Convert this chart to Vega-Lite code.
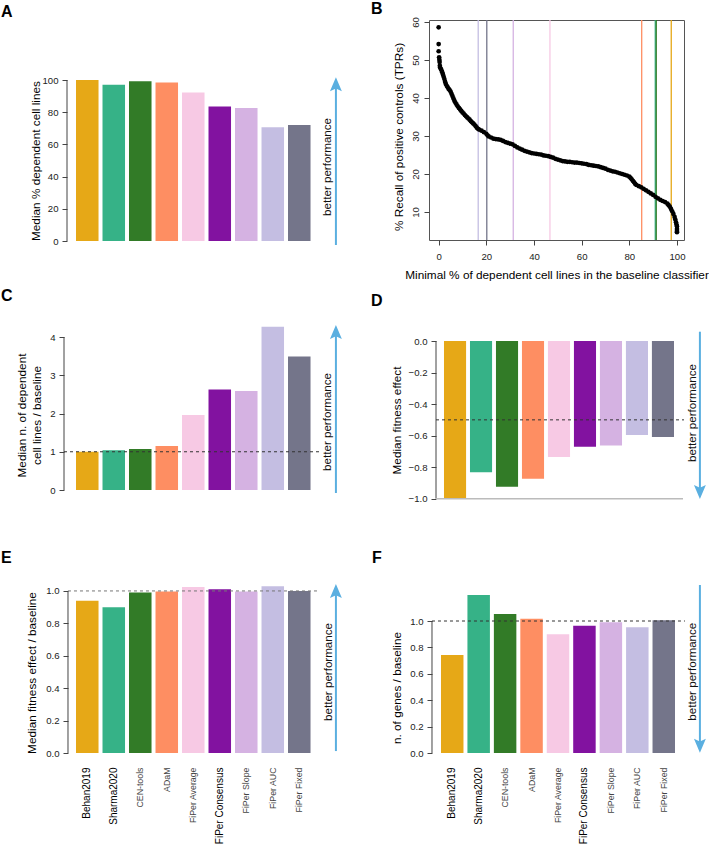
{
"$schema": "https://vega.github.io/schema/vega-lite/v6.json",
"padding": {"left": 1, "top": 0, "right": 0, "bottom": 0},
"config": {
  "view": {"stroke": null},
  "font": "Liberation Sans",
  "axis": {"labelFont": "Liberation Sans", "titleFont": "Liberation Sans", "titleFontWeight": "normal", "labelColor": "#222", "titleColor": "#000", "tickColor": "#444", "grid": false, "labelFontSize": 9.6, "titleFontSize": 11.8, "tickSize": 5, "labelPadding": 4, "labelOverlap": false, "labelFlush": false, "tickCount": 12},
  "title": {"font": "Liberation Sans", "fontSize": 16, "fontWeight": "bold", "color": "#000", "anchor": "start", "frame": "group"},
  "text": {"font": "Liberation Sans"}
},
"datasets": {
  "perf": [
    {"method": "Behan2019", "pct_dependent": 100, "n_dep_ratio": 1.0, "fitness": -1.0, "fitness_ratio": 0.94, "genes_ratio": 0.742, "min_pct": 97.6},
    {"method": "Sharma2020", "pct_dependent": 97.1, "n_dep_ratio": 1.04, "fitness": -0.833, "fitness_ratio": 0.899, "genes_ratio": 1.197, "min_pct": 90.9},
    {"method": "CEN-tools", "pct_dependent": 99.3, "n_dep_ratio": 1.07, "fitness": -0.924, "fitness_ratio": 0.99, "genes_ratio": 1.053, "min_pct": 91.3},
    {"method": "ADaM", "pct_dependent": 98.5, "n_dep_ratio": 1.15, "fitness": -0.873, "fitness_ratio": 0.996, "genes_ratio": 1.018, "min_pct": 85.2},
    {"method": "FiPer Average", "pct_dependent": 92.3, "n_dep_ratio": 1.96, "fitness": -0.736, "fitness_ratio": 1.025, "genes_ratio": 0.9, "min_pct": 46.7},
    {"method": "FiPer Consensus", "pct_dependent": 83.5, "n_dep_ratio": 2.63, "fitness": -0.67, "fitness_ratio": 1.01, "genes_ratio": 0.965, "min_pct": null},
    {"method": "FiPer Slope", "pct_dependent": 82.6, "n_dep_ratio": 2.59, "fitness": -0.662, "fitness_ratio": 0.996, "genes_ratio": 0.99, "min_pct": 31.3},
    {"method": "FiPer AUC", "pct_dependent": 70.6, "n_dep_ratio": 4.27, "fitness": -0.596, "fitness_ratio": 1.029, "genes_ratio": 0.952, "min_pct": 16.6},
    {"method": "FiPer Fixed", "pct_dependent": 72.0, "n_dep_ratio": 3.49, "fitness": -0.609, "fitness_ratio": 1.0, "genes_ratio": 1.005, "min_pct": 20.2}
  ],
  "recall": [
    {"min_pct": 0, "tpr": 58.6}, {"min_pct": 0, "tpr": 54.2}, {"min_pct": 0, "tpr": 52.3}, {"min_pct": 0.2, "tpr": 50.7}, {"min_pct": 0.3, "tpr": 50.1}, {"min_pct": 0.4, "tpr": 49.5}, {"min_pct": 0.5, "tpr": 48.5}, {"min_pct": 0.6, "tpr": 48.0}, {"min_pct": 0.9, "tpr": 47.7}, {"min_pct": 1.2, "tpr": 47.3}, {"min_pct": 1.5, "tpr": 46.8}, {"min_pct": 1.8, "tpr": 46.2}, {"min_pct": 2.1, "tpr": 45.6}, {"min_pct": 2.4, "tpr": 45.0}, {"min_pct": 2.7, "tpr": 44.3}, {"min_pct": 3.0, "tpr": 43.7}, {"min_pct": 3.4, "tpr": 43.2}, {"min_pct": 3.8, "tpr": 42.8}, {"min_pct": 4.2, "tpr": 42.4}, {"min_pct": 4.6, "tpr": 42.1}, {"min_pct": 5.0, "tpr": 41.7}, {"min_pct": 5.4, "tpr": 41.1}, {"min_pct": 5.8, "tpr": 40.5}, {"min_pct": 6.2, "tpr": 39.9}, {"min_pct": 6.6, "tpr": 39.3}, {"min_pct": 7.0, "tpr": 38.8}, {"min_pct": 7.5, "tpr": 38.3}, {"min_pct": 8.0, "tpr": 37.8}, {"min_pct": 8.5, "tpr": 37.4}, {"min_pct": 9.0, "tpr": 37.0}, {"min_pct": 9.5, "tpr": 36.6}, {"min_pct": 10, "tpr": 36.2}, {"min_pct": 10.5, "tpr": 35.9}, {"min_pct": 11, "tpr": 35.5}, {"min_pct": 11.5, "tpr": 35.2}, {"min_pct": 12, "tpr": 34.9}, {"min_pct": 12.5, "tpr": 34.6}, {"min_pct": 13, "tpr": 34.3}, {"min_pct": 13.5, "tpr": 33.9}, {"min_pct": 14, "tpr": 33.6}, {"min_pct": 14.5, "tpr": 33.3}, {"min_pct": 15, "tpr": 33.0}, {"min_pct": 15.5, "tpr": 32.6}, {"min_pct": 16, "tpr": 32.2}, {"min_pct": 16.5, "tpr": 31.9}, {"min_pct": 17, "tpr": 31.7}, {"min_pct": 18, "tpr": 31.4}, {"min_pct": 19, "tpr": 31.0}, {"min_pct": 20, "tpr": 30.6}, {"min_pct": 20.5, "tpr": 30.2}, {"min_pct": 21, "tpr": 29.9}, {"min_pct": 22, "tpr": 29.6}, {"min_pct": 23, "tpr": 29.3}, {"min_pct": 24, "tpr": 29.2}, {"min_pct": 25, "tpr": 29.1}, {"min_pct": 26, "tpr": 29.0}, {"min_pct": 27, "tpr": 28.7}, {"min_pct": 28, "tpr": 28.4}, {"min_pct": 29, "tpr": 28.2}, {"min_pct": 30, "tpr": 28.0}, {"min_pct": 31, "tpr": 27.8}, {"min_pct": 32, "tpr": 27.4}, {"min_pct": 33, "tpr": 27.0}, {"min_pct": 34, "tpr": 26.7}, {"min_pct": 35, "tpr": 26.4}, {"min_pct": 36, "tpr": 26.1}, {"min_pct": 37, "tpr": 25.9}, {"min_pct": 38, "tpr": 25.7}, {"min_pct": 39, "tpr": 25.5}, {"min_pct": 40, "tpr": 25.4}, {"min_pct": 41, "tpr": 25.3}, {"min_pct": 42, "tpr": 25.2}, {"min_pct": 43, "tpr": 25.1}, {"min_pct": 44, "tpr": 24.9}, {"min_pct": 45, "tpr": 24.8}, {"min_pct": 46, "tpr": 24.7}, {"min_pct": 47, "tpr": 24.5}, {"min_pct": 48, "tpr": 24.3}, {"min_pct": 49, "tpr": 24.0}, {"min_pct": 50, "tpr": 23.8}, {"min_pct": 51, "tpr": 23.6}, {"min_pct": 52, "tpr": 23.4}, {"min_pct": 53, "tpr": 23.3}, {"min_pct": 54, "tpr": 23.2}, {"min_pct": 55, "tpr": 23.2}, {"min_pct": 56, "tpr": 23.1}, {"min_pct": 57, "tpr": 23.0}, {"min_pct": 58, "tpr": 23.0}, {"min_pct": 59, "tpr": 22.9}, {"min_pct": 60, "tpr": 22.8}, {"min_pct": 61, "tpr": 22.7}, {"min_pct": 62, "tpr": 22.6}, {"min_pct": 63, "tpr": 22.4}, {"min_pct": 64, "tpr": 22.3}, {"min_pct": 65, "tpr": 22.2}, {"min_pct": 66, "tpr": 22.1}, {"min_pct": 67, "tpr": 22.0}, {"min_pct": 68, "tpr": 21.8}, {"min_pct": 69, "tpr": 21.6}, {"min_pct": 70, "tpr": 21.4}, {"min_pct": 71, "tpr": 21.1}, {"min_pct": 72, "tpr": 20.9}, {"min_pct": 73, "tpr": 20.7}, {"min_pct": 74, "tpr": 20.6}, {"min_pct": 75, "tpr": 20.4}, {"min_pct": 76, "tpr": 20.2}, {"min_pct": 77, "tpr": 20.0}, {"min_pct": 78, "tpr": 19.8}, {"min_pct": 79, "tpr": 19.6}, {"min_pct": 80, "tpr": 19.3}, {"min_pct": 80.5, "tpr": 19.0}, {"min_pct": 81, "tpr": 18.6}, {"min_pct": 81.5, "tpr": 18.2}, {"min_pct": 82, "tpr": 17.8}, {"min_pct": 82.5, "tpr": 17.4}, {"min_pct": 83, "tpr": 17.1}, {"min_pct": 84, "tpr": 16.8}, {"min_pct": 85, "tpr": 16.5}, {"min_pct": 86, "tpr": 16.1}, {"min_pct": 87, "tpr": 15.7}, {"min_pct": 88, "tpr": 15.3}, {"min_pct": 89, "tpr": 14.9}, {"min_pct": 90, "tpr": 14.5}, {"min_pct": 91, "tpr": 14.0}, {"min_pct": 92, "tpr": 13.6}, {"min_pct": 93, "tpr": 13.2}, {"min_pct": 94, "tpr": 12.9}, {"min_pct": 95, "tpr": 12.6}, {"min_pct": 96, "tpr": 12.2}, {"min_pct": 96.5, "tpr": 11.8}, {"min_pct": 97, "tpr": 11.4}, {"min_pct": 97.5, "tpr": 10.8}, {"min_pct": 98, "tpr": 10.2}, {"min_pct": 98.5, "tpr": 9.5}, {"min_pct": 99, "tpr": 8.7}, {"min_pct": 99.3, "tpr": 8.0}, {"min_pct": 99.6, "tpr": 7.3}, {"min_pct": 99.8, "tpr": 6.7}, {"min_pct": 100, "tpr": 6.2}, {"min_pct": 100, "tpr": 5.5}, {"min_pct": 100, "tpr": 5.0}, {"min_pct": 100, "tpr": 4.7}
  ]
},
"columns": 2,
"bounds": "flush",
"spacing": {"row": 84, "column": 83},
"concat": [
  {
    "width": 280, "height": 221,
    "title": {"text": "A", "dx": -65, "offset": 0},
    "layer": [
      {"data": {"name": "perf"}, "mark": {"type": "bar"},
       "encoding": {
         "x": {"field": "method", "type": "nominal", "sort": null, "scale": {"paddingInner": 0.15, "paddingOuter": 0.858, "align": 0.22}, "axis": null},
         "y": {"field": "pct_dependent", "type": "quantitative", "scale": {"domain": [0, 137.27], "nice": false}, "axis": {"title": "Median % dependent cell lines", "values": [0, 20, 40, 60, 80, 100], "format": "d", "tickCount": 12, "domain": false, "offset": -1, "minExtent": 26, "maxExtent": 26, "titlePadding": 0, "titleY": 140.5}},
         "color": {"field": "method", "type": "nominal", "scale": {"domain": ["Behan2019", "Sharma2020", "CEN-tools", "ADaM", "FiPer Average", "FiPer Consensus", "FiPer Slope", "FiPer AUC", "FiPer Fixed"], "range": ["#E6A817", "#36B287", "#327B27", "#FE8E62", "#F7C9E4", "#8212A0", "#D5B2E2", "#C4BEE2", "#74758A"]}, "legend": null}
       }},
      {"data": {"values": [{}]}, "mark": {"type": "rule", "color": "#444"},
       "encoding": {"x": {"datum": 0.0036, "type": "quantitative", "scale": {"domain": [0, 1]}, "axis": null}, "y": {"datum": 0}, "y2": {"datum": 100}}},
      {"data": {"values": [{}]}, "mark": {"type": "rule", "color": "#5AAFE0", "strokeWidth": 2},
       "encoding": {"x": {"datum": 0.964, "type": "quantitative", "scale": {"domain": [0, 1]}, "axis": null}, "y": {"datum": -2.5}, "y2": {"datum": 97}}},
      {"data": {"values": [{}]}, "mark": {"type": "point", "shape": "M0,-1L-0.85,1L0,0.6L0.85,1Z", "filled": true, "color": "#5AAFE0", "opacity": 1, "size": 196},
       "encoding": {"x": {"datum": 0.964, "type": "quantitative", "scale": {"domain": [0, 1]}, "axis": null}, "y": {"datum": 97.3}}},
      {"data": {"values": [{}]}, "mark": {"type": "text", "text": "better performance", "angle": 270, "fontSize": 11.6, "color": "#111", "align": "center", "baseline": "middle"},
       "encoding": {"x": {"datum": 0.936, "type": "quantitative", "scale": {"domain": [0, 1]}, "axis": null}, "y": {"datum": 46}}}
    ],
    "resolve": {"scale": {"x": "independent"}}
  },
  {
    "width": 255, "height": 220,
    "view": {"stroke": "#555", "strokeWidth": 1},
    "title": {"text": "B", "dx": -58, "offset": 0},
    "layer": [
      {"data": {"name": "perf"}, "transform": [{"filter": "isValid(datum.min_pct)"}], "mark": {"type": "rule", "strokeWidth": 1.3},
       "encoding": {
         "x": {"field": "min_pct", "type": "quantitative", "scale": {"domain": [-4.05, 102.95], "nice": false, "zero": false}, "axis": {"title": "Minimal % of dependent cell lines in the baseline classifier", "values": [0, 20, 40, 60, 80, 100], "tickCount": 12, "domain": false, "labelPadding": 6, "titlePadding": 9}},
         "color": {"field": "method", "type": "nominal", "scale": {"domain": ["Behan2019", "Sharma2020", "CEN-tools", "ADaM", "FiPer Average", "FiPer Consensus", "FiPer Slope", "FiPer AUC", "FiPer Fixed"], "range": ["#E6A817", "#36B287", "#327B27", "#FE8E62", "#F7C9E4", "#8212A0", "#D5B2E2", "#C4BEE2", "#74758A"]}, "legend": null}
       }},
      {"data": {"name": "recall"}, "mark": {"type": "circle", "size": 22, "color": "#000", "opacity": 1},
       "encoding": {
         "x": {"field": "min_pct", "type": "quantitative", "scale": {"domain": [-4.05, 102.95], "nice": false, "zero": false}, "axis": {"title": "Minimal % of dependent cell lines in the baseline classifier", "values": [0, 20, 40, 60, 80, 100], "tickCount": 12, "domain": false, "labelPadding": 6, "titlePadding": 9}},
         "y": {"field": "tpr", "type": "quantitative", "scale": {"domain": [2.63, 60.53], "nice": false, "zero": false}, "axis": {"title": "% Recall of positive controls (TPRs)", "values": [10, 20, 30, 40, 50, 60], "tickCount": 12, "labelAngle": -90, "labelAlign": "center", "labelBaseline": "bottom", "domain": false, "minExtent": 24.1, "maxExtent": 24.1, "titlePadding": 0, "titleY": 116.5}}
       }}
    ]
  },
  {
    "width": 280, "height": 174,
    "title": {"text": "C", "dx": -65, "offset": 21},
    "layer": [
      {"data": {"name": "perf"}, "mark": {"type": "bar"},
       "encoding": {
         "x": {"field": "method", "type": "nominal", "sort": null, "scale": {"paddingInner": 0.15, "paddingOuter": 0.858, "align": 0.22}, "axis": null},
         "y": {"field": "n_dep_ratio", "type": "quantitative", "scale": {"domain": [-0.235, 4.314], "nice": false, "zero": false}, "axis": {"title": ["Median n. of dependent", "cell lines / baseline"], "titleLineHeight": 15, "values": [0, 1, 2, 3, 4], "format": "d", "tickCount": 12, "domain": false, "offset": 2, "minExtent": 21.4, "maxExtent": 21.4, "titlePadding": 0, "titleY": 90}},
         "y2": {"datum": 0},
         "color": {"field": "method", "type": "nominal", "scale": {"domain": ["Behan2019", "Sharma2020", "CEN-tools", "ADaM", "FiPer Average", "FiPer Consensus", "FiPer Slope", "FiPer AUC", "FiPer Fixed"], "range": ["#E6A817", "#36B287", "#327B27", "#FE8E62", "#F7C9E4", "#8212A0", "#D5B2E2", "#C4BEE2", "#74758A"]}, "legend": null}
       }},
      {"data": {"values": [{}]}, "mark": {"type": "rule", "color": "#444"},
       "encoding": {"x": {"datum": -0.0071, "type": "quantitative", "scale": {"domain": [0, 1]}, "axis": null}, "y": {"datum": 0}, "y2": {"datum": 4}}},
      {"data": {"values": [{}]}, "mark": {"type": "rule", "color": "#333", "strokeDash": [3, 3]},
       "encoding": {"x": {"datum": -0.0071, "type": "quantitative", "scale": {"domain": [0, 1]}, "axis": null}, "x2": {"datum": 0.904}, "y": {"datum": 1}}},
      {"data": {"values": [{}]}, "mark": {"type": "rule", "color": "#5AAFE0", "strokeWidth": 2},
       "encoding": {"x": {"datum": 0.964, "type": "quantitative", "scale": {"domain": [0, 1]}, "axis": null}, "y": {"datum": -0.078}, "y2": {"datum": 4.1}}},
      {"data": {"values": [{}]}, "mark": {"type": "point", "shape": "M0,-1L-0.85,1L0,0.6L0.85,1Z", "filled": true, "color": "#5AAFE0", "opacity": 1, "size": 196},
       "encoding": {"x": {"datum": 0.964, "type": "quantitative", "scale": {"domain": [0, 1]}, "axis": null}, "y": {"datum": 4.131}}},
      {"data": {"values": [{}]}, "mark": {"type": "text", "text": "better performance", "angle": 270, "fontSize": 11.6, "color": "#111", "align": "center", "baseline": "middle"},
       "encoding": {"x": {"datum": 0.936, "type": "quantitative", "scale": {"domain": [0, 1]}, "axis": null}, "y": {"datum": 1.78}}}
    ],
    "resolve": {"scale": {"x": "independent"}}
  },
  {
    "width": 277, "height": 174,
    "title": {"text": "D", "dx": -58, "offset": 16},
    "layer": [
      {"data": {"name": "perf"}, "mark": {"type": "bar"},
       "encoding": {
         "x": {"field": "method", "type": "nominal", "sort": null, "scale": {"paddingInner": 0.15, "paddingOuter": 0.904, "align": 0.319}, "axis": null},
         "y": {"field": "fitness", "type": "quantitative", "scale": {"domain": [-1.002, 0.1015], "nice": false, "zero": false}, "axis": {"title": "Median fitness effect", "values": [-1, -0.8, -0.6, -0.4, -0.2, 0], "format": ".1f", "tickCount": 12, "domain": false, "offset": -7, "minExtent": 33.4, "maxExtent": 33.4, "titlePadding": 0, "titleY": 95}},
         "y2": {"datum": 0},
         "color": {"field": "method", "type": "nominal", "scale": {"domain": ["Behan2019", "Sharma2020", "CEN-tools", "ADaM", "FiPer Average", "FiPer Consensus", "FiPer Slope", "FiPer AUC", "FiPer Fixed"], "range": ["#E6A817", "#36B287", "#327B27", "#FE8E62", "#F7C9E4", "#8212A0", "#D5B2E2", "#C4BEE2", "#74758A"]}, "legend": null}
       }},
      {"data": {"values": [{}]}, "mark": {"type": "rule", "color": "#444"},
       "encoding": {"x": {"datum": 0.0253, "type": "quantitative", "scale": {"domain": [0, 1]}, "axis": null}, "y": {"datum": -1}, "y2": {"datum": 0}}},
      {"data": {"values": [{}]}, "mark": {"type": "rule", "color": "#bbb", "strokeWidth": 1.5},
       "encoding": {"x": {"datum": 0.0253, "type": "quantitative", "scale": {"domain": [0, 1]}, "axis": null}, "x2": {"datum": 0.917}, "y": {"datum": -1}}},
      {"data": {"values": [{}]}, "mark": {"type": "rule", "color": "#333", "strokeDash": [3, 3]},
       "encoding": {"x": {"datum": 0.0253, "type": "quantitative", "scale": {"domain": [0, 1]}, "axis": null}, "x2": {"datum": 0.9206}, "y": {"datum": -0.5}}},
      {"data": {"values": [{}]}, "mark": {"type": "rule", "color": "#5AAFE0", "strokeWidth": 2},
       "encoding": {"x": {"datum": 0.978, "type": "quantitative", "scale": {"domain": [0, 1]}, "axis": null}, "y": {"datum": 0.059}, "y2": {"datum": -0.95}}},
      {"data": {"values": [{}]}, "mark": {"type": "point", "shape": "M0,1L-0.85,-1L0,-0.6L0.85,-1Z", "filled": true, "color": "#5AAFE0", "opacity": 1, "size": 196},
       "encoding": {"x": {"datum": 0.978, "type": "quantitative", "scale": {"domain": [0, 1]}, "axis": null}, "y": {"datum": -0.958}}},
      {"data": {"values": [{}]}, "mark": {"type": "text", "text": "better performance", "angle": 270, "fontSize": 11.6, "color": "#111", "align": "center", "baseline": "middle"},
       "encoding": {"x": {"datum": 0.953, "type": "quantitative", "scale": {"domain": [0, 1]}, "axis": null}, "y": {"datum": -0.457}}}
    ],
    "resolve": {"scale": {"x": "independent"}}
  },
  {
    "width": 280, "height": 170,
    "title": {"text": "E", "dx": -65, "offset": 17},
    "layer": [
      {"data": {"name": "perf"}, "mark": {"type": "bar"},
       "encoding": {
         "x": {"field": "method", "type": "nominal", "sort": null, "scale": {"paddingInner": 0.15, "paddingOuter": 0.858, "align": 0.22}, "axis": {"title": null, "labelAngle": 270, "labelAlign": "right", "labelBaseline": "middle", "ticks": false, "domain": false, "labelPadding": 14,
           "labelColor": {"condition": {"test": "datum.value == 'Behan2019' || datum.value == 'Sharma2020' || datum.value == 'FiPer Consensus'", "value": "#000"}, "value": "#444"},
           "labelFontSize": {"condition": {"test": "datum.value == 'Behan2019' || datum.value == 'Sharma2020' || datum.value == 'FiPer Consensus'", "value": 10}, "value": 8.8}}},
         "y": {"field": "fitness_ratio", "type": "quantitative", "scale": {"domain": [0, 1.049], "nice": false}, "axis": {"title": "Median fitness effect / baseline", "values": [0, 0.2, 0.4, 0.6, 0.8, 1], "format": ".1f", "tickCount": 12, "domain": false, "offset": -2, "minExtent": 30.4, "maxExtent": 30.4, "titlePadding": 0, "titleY": 89.5}},
         "color": {"field": "method", "type": "nominal", "scale": {"domain": ["Behan2019", "Sharma2020", "CEN-tools", "ADaM", "FiPer Average", "FiPer Consensus", "FiPer Slope", "FiPer AUC", "FiPer Fixed"], "range": ["#E6A817", "#36B287", "#327B27", "#FE8E62", "#F7C9E4", "#8212A0", "#D5B2E2", "#C4BEE2", "#74758A"]}, "legend": null}
       }},
      {"data": {"values": [{}]}, "mark": {"type": "rule", "color": "#444"},
       "encoding": {"x": {"datum": 0.0071, "type": "quantitative", "scale": {"domain": [0, 1]}, "axis": null}, "y": {"datum": 0}, "y2": {"datum": 1}}},
      {"data": {"values": [{}]}, "mark": {"type": "rule", "color": "#777", "strokeDash": [3, 3]},
       "encoding": {"x": {"datum": 0.0071, "type": "quantitative", "scale": {"domain": [0, 1]}, "axis": null}, "x2": {"datum": 0.904}, "y": {"datum": 1}}},
      {"data": {"values": [{}]}, "mark": {"type": "rule", "color": "#5AAFE0", "strokeWidth": 2},
       "encoding": {"x": {"datum": 0.964, "type": "quantitative", "scale": {"domain": [0, 1]}, "axis": null}, "y": {"datum": 0.012}, "y2": {"datum": 0.99}}},
      {"data": {"values": [{}]}, "mark": {"type": "point", "shape": "M0,-1L-0.85,1L0,0.6L0.85,1Z", "filled": true, "color": "#5AAFE0", "opacity": 1, "size": 196},
       "encoding": {"x": {"datum": 0.964, "type": "quantitative", "scale": {"domain": [0, 1]}, "axis": null}, "y": {"datum": 1.0}}},
      {"data": {"values": [{}]}, "mark": {"type": "text", "text": "better performance", "angle": 270, "fontSize": 11.6, "color": "#111", "align": "center", "baseline": "middle"},
       "encoding": {"x": {"datum": 0.939, "type": "quantitative", "scale": {"domain": [0, 1]}, "axis": null}, "y": {"datum": 0.5}}}
    ],
    "resolve": {"scale": {"x": "independent"}}
  },
  {
    "width": 277, "height": 170,
    "title": {"text": "F", "dx": -57, "offset": 17},
    "layer": [
      {"data": {"name": "perf"}, "mark": {"type": "bar"},
       "encoding": {
         "x": {"field": "method", "type": "nominal", "sort": null, "scale": {"paddingInner": 0.15, "paddingOuter": 0.813, "align": 0.279}, "axis": {"title": null, "labelAngle": 270, "labelAlign": "right", "labelBaseline": "middle", "ticks": false, "domain": false, "labelPadding": 14,
           "labelColor": {"condition": {"test": "datum.value == 'Behan2019' || datum.value == 'Sharma2020' || datum.value == 'FiPer Consensus'", "value": "#000"}, "value": "#444"},
           "labelFontSize": {"condition": {"test": "datum.value == 'Behan2019' || datum.value == 'Sharma2020' || datum.value == 'FiPer Consensus'", "value": 10}, "value": 8.8}}},
         "y": {"field": "genes_ratio", "type": "quantitative", "scale": {"domain": [0, 1.288], "nice": false}, "axis": {"title": "n. of genes / baseline", "values": [0, 0.2, 0.4, 0.6, 0.8, 1], "format": ".1f", "tickCount": 12, "domain": false, "offset": -3, "minExtent": 29.4, "maxExtent": 29.4, "titlePadding": 0, "titleY": 104.5}},
         "color": {"field": "method", "type": "nominal", "scale": {"domain": ["Behan2019", "Sharma2020", "CEN-tools", "ADaM", "FiPer Average", "FiPer Consensus", "FiPer Slope", "FiPer AUC", "FiPer Fixed"], "range": ["#E6A817", "#36B287", "#327B27", "#FE8E62", "#F7C9E4", "#8212A0", "#D5B2E2", "#C4BEE2", "#74758A"]}, "legend": null}
       }},
      {"data": {"values": [{}]}, "mark": {"type": "rule", "color": "#444"},
       "encoding": {"x": {"datum": 0.0108, "type": "quantitative", "scale": {"domain": [0, 1]}, "axis": null}, "y": {"datum": 0}, "y2": {"datum": 1}}},
      {"data": {"values": [{}]}, "mark": {"type": "rule", "color": "#333", "strokeDash": [3, 3]},
       "encoding": {"x": {"datum": 0.0108, "type": "quantitative", "scale": {"domain": [0, 1]}, "axis": null}, "x2": {"datum": 0.924}, "y": {"datum": 1}}},
      {"data": {"values": [{}]}, "mark": {"type": "rule", "color": "#5AAFE0", "strokeWidth": 2},
       "encoding": {"x": {"datum": 0.978, "type": "quantitative", "scale": {"domain": [0, 1]}, "axis": null}, "y": {"datum": 1.273}, "y2": {"datum": 0.06}}},
      {"data": {"values": [{}]}, "mark": {"type": "point", "shape": "M0,1L-0.85,-1L0,-0.6L0.85,-1Z", "filled": true, "color": "#5AAFE0", "opacity": 1, "size": 196},
       "encoding": {"x": {"datum": 0.978, "type": "quantitative", "scale": {"domain": [0, 1]}, "axis": null}, "y": {"datum": 0.055}}},
      {"data": {"values": [{}]}, "mark": {"type": "text", "text": "better performance", "angle": 270, "fontSize": 11.6, "color": "#111", "align": "center", "baseline": "middle"},
       "encoding": {"x": {"datum": 0.953, "type": "quantitative", "scale": {"domain": [0, 1]}, "axis": null}, "y": {"datum": 0.616}}}
    ],
    "resolve": {"scale": {"x": "independent"}}
  }
]
}
